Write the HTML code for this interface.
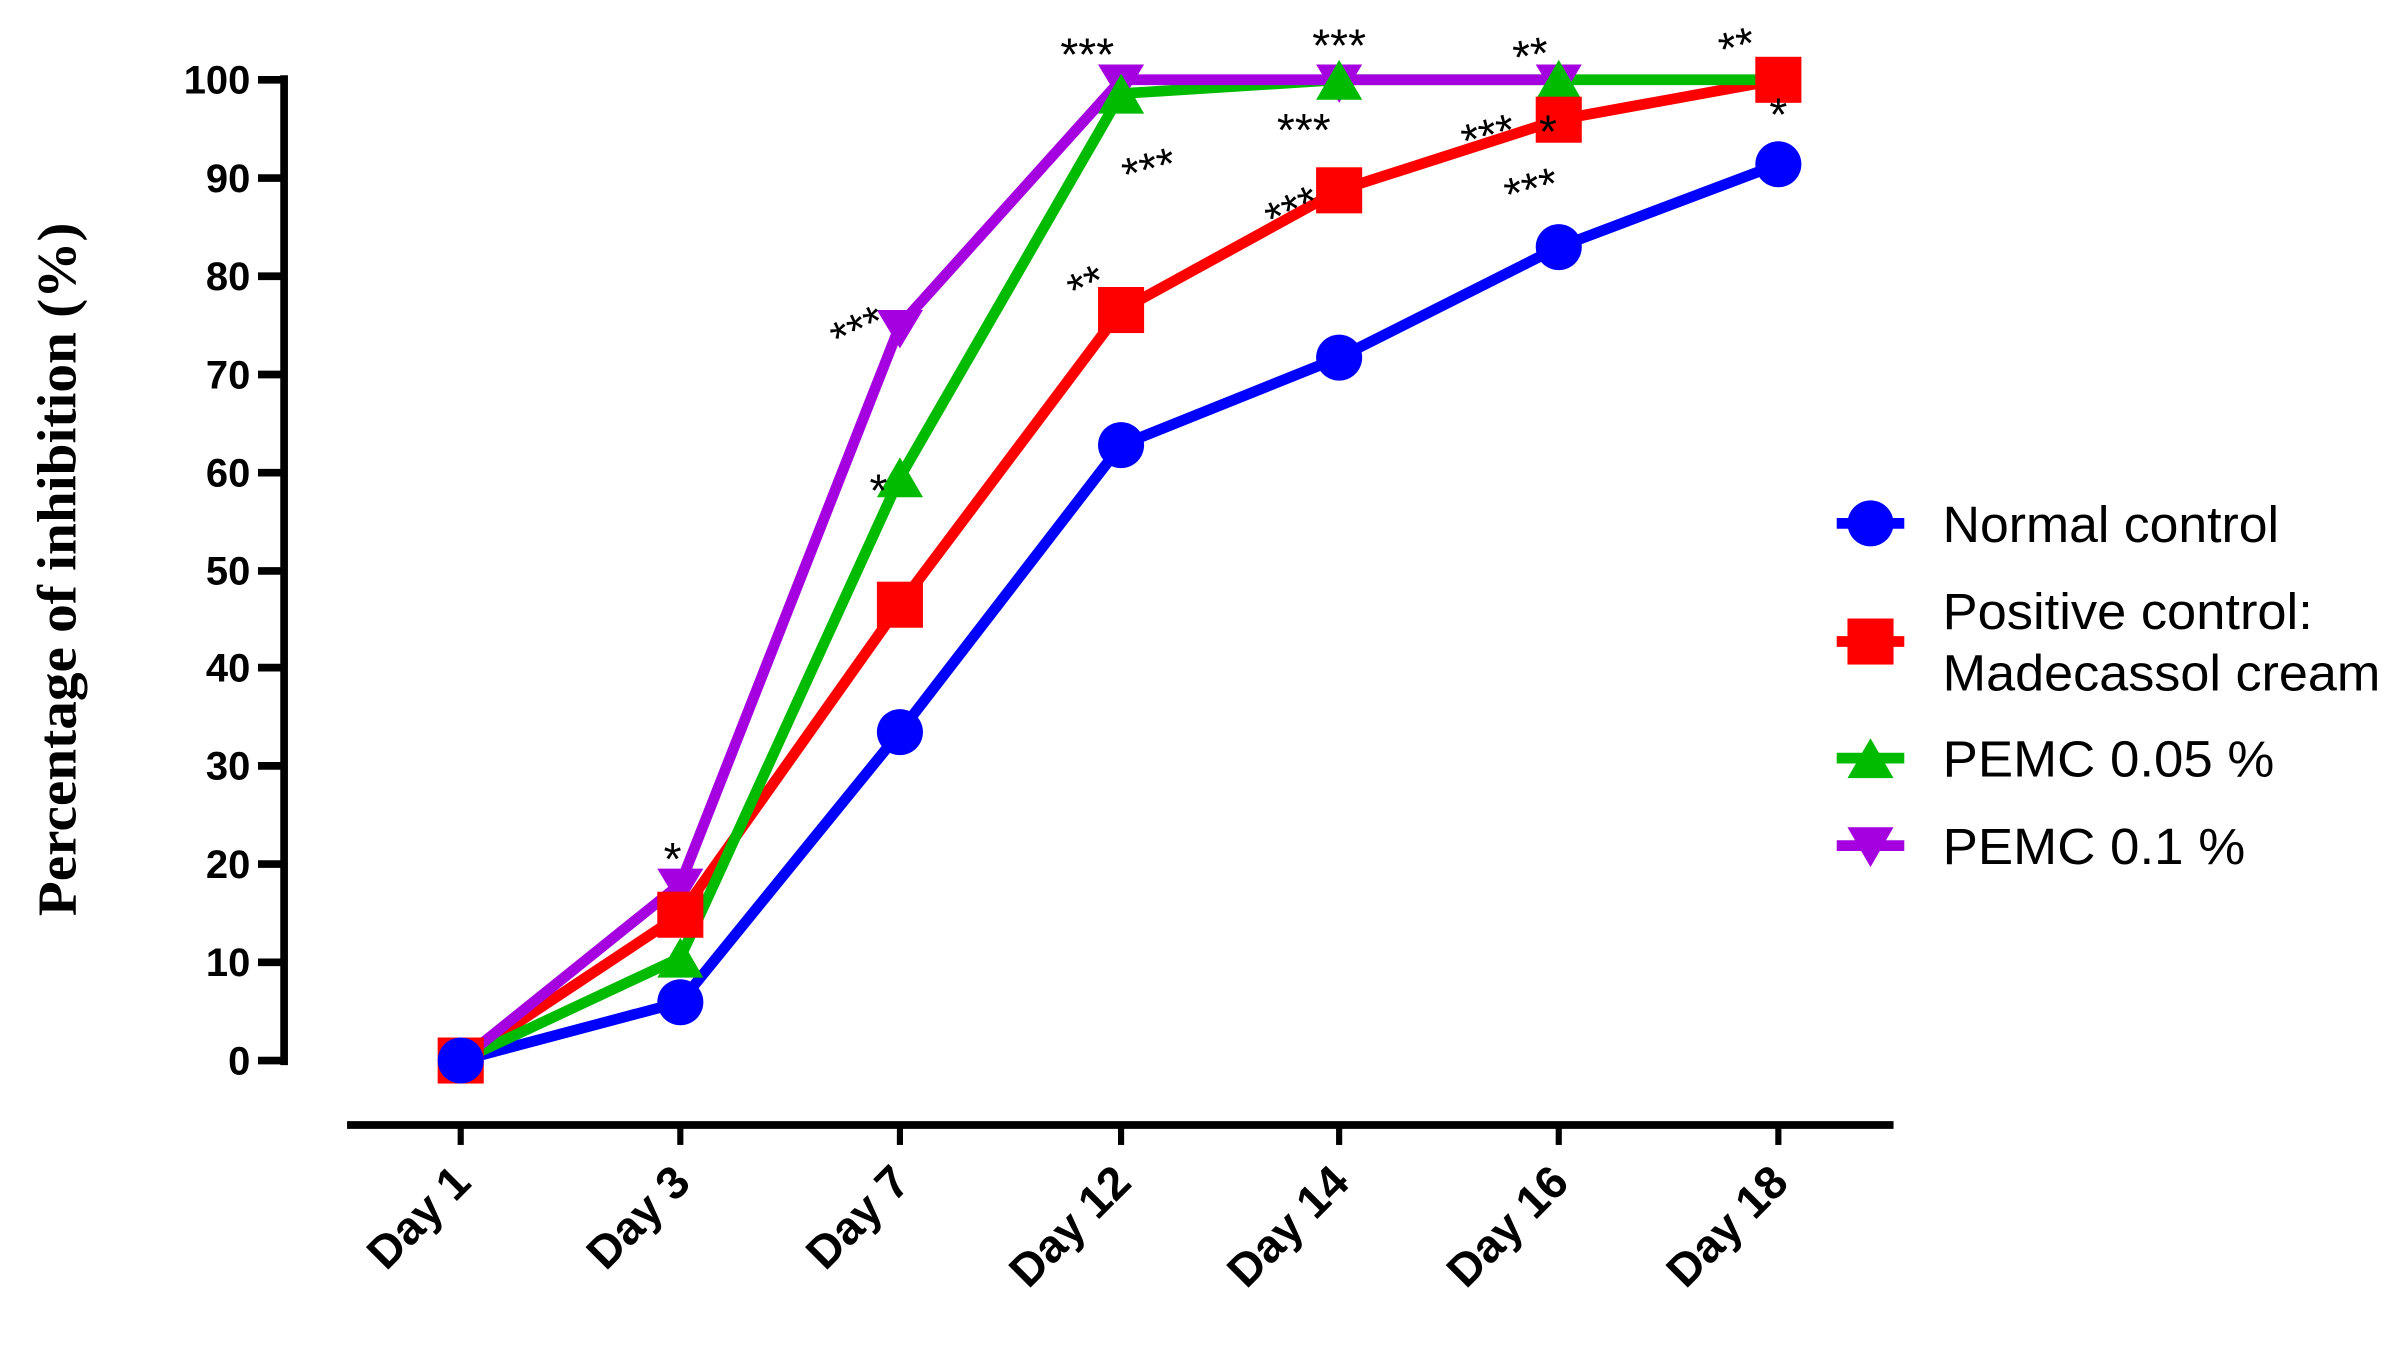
<!DOCTYPE html>
<html><head><meta charset="utf-8"><style>
html,body{margin:0;padding:0;background:#fff;overflow:hidden}
svg{display:block}
text{font-family:"Liberation Sans",Arial,sans-serif}
.tk{font-size:26px;font-weight:bold;fill:#000}
.xl{font-size:30px;font-weight:bold;fill:#000}
.ast{font-size:30px;fill:#000}
.lg{font-size:33px;fill:#000}
</style></head><body>
<svg width="2408" height="1346" viewBox="0 0 1568 877" preserveAspectRatio="none" xmlns="http://www.w3.org/2000/svg">
<rect width="1568" height="877" fill="#fff"/>
<line x1="185" y1="49" x2="185" y2="694" stroke="#000" stroke-width="5"/>
<g stroke="#000" stroke-width="5">
<line x1="168" y1="52" x2="185" y2="52"/><line x1="168" y1="116" x2="185" y2="116"/>
<line x1="168" y1="180" x2="185" y2="180"/><line x1="168" y1="244" x2="185" y2="244"/>
<line x1="168" y1="308" x2="185" y2="308"/><line x1="168" y1="372" x2="185" y2="372"/>
<line x1="168" y1="435" x2="185" y2="435"/><line x1="168" y1="499" x2="185" y2="499"/>
<line x1="168" y1="563" x2="185" y2="563"/><line x1="168" y1="627" x2="185" y2="627"/>
<line x1="168" y1="691" x2="185" y2="691"/>
</g>
<g class="tk" text-anchor="end">
<text x="163" y="61">100</text><text x="163" y="125">90</text><text x="163" y="189">80</text>
<text x="163" y="253">70</text><text x="163" y="317">60</text><text x="163" y="381">50</text>
<text x="163" y="444">40</text><text x="163" y="508">30</text><text x="163" y="572">20</text>
<text x="163" y="636">10</text><text x="163" y="700">0</text>
</g>
<text transform="translate(49,371) rotate(-90)" text-anchor="middle" textLength="452" lengthAdjust="spacingAndGlyphs" style="font-family:'Liberation Serif',serif;font-weight:bold;font-size:36px">Percentage of inhibition (%)</text>
<line x1="226" y1="733" x2="1233" y2="733" stroke="#000" stroke-width="5"/>
<g stroke="#000" stroke-width="4">
<line x1="300" y1="733" x2="300" y2="746"/><line x1="443" y1="733" x2="443" y2="746"/>
<line x1="586" y1="733" x2="586" y2="746"/><line x1="730" y1="733" x2="730" y2="746"/>
<line x1="872" y1="733" x2="872" y2="746"/><line x1="1015" y1="733" x2="1015" y2="746"/>
<line x1="1158" y1="733" x2="1158" y2="746"/>
</g>
<g class="xl" text-anchor="end">
<text transform="translate(308,772) rotate(-45)">Day 1</text>
<text transform="translate(451,772) rotate(-45)">Day 3</text>
<text transform="translate(594,772) rotate(-45)">Day 7</text>
<text transform="translate(738,772) rotate(-45)">Day 12</text>
<text transform="translate(880,772) rotate(-45)">Day 14</text>
<text transform="translate(1023,772) rotate(-45)">Day 16</text>
<text transform="translate(1166,772) rotate(-45)">Day 18</text>
</g>
<g fill="none" stroke-width="7" stroke-linejoin="round">
<polyline stroke="#0000ff" points="300,691 443,653 586,477 730,290 872,233 1015,161 1158,107"/>
<polyline stroke="#ff0000" points="300,691 443,596 586,394 730,202 872,124 1015,78 1158,52"/>
<polyline stroke="#00bb00" points="300,691 443,624 586,311 730,61 872,52 1015,52 1158,52"/>
<polyline stroke="#a400e0" points="300,691 443,576 586,212 730,52 872,52 1015,52"/>
</g>
<g fill="#a400e0">
<polygon points="285,681 315,681 300,706"/>
<polygon points="428,566 458,566 443,591"/>
<polygon points="571,202 601,202 586,227"/>
<polygon points="715,42 745,42 730,67"/>
<polygon points="857,42 887,42 872,67"/>
<polygon points="1000,42 1030,42 1015,67"/>
</g>
<g fill="#00bb00">
<polygon points="285,704 315,704 300,678"/>
<polygon points="428,637 458,637 443,611"/>
<polygon points="571,324 601,324 586,298"/>
<polygon points="715,74 745,74 730,48"/>
<polygon points="857,65 887,65 872,39"/>
<polygon points="1000,65 1030,65 1015,39"/>
</g>
<g fill="#ff0000">
<rect x="285" y="676" width="30" height="30"/>
<rect x="428" y="581" width="30" height="30"/>
<rect x="571" y="379" width="30" height="30"/>
<rect x="715" y="187" width="30" height="30"/>
<rect x="857" y="109" width="30" height="30"/>
<rect x="1000" y="63" width="30" height="30"/>
<rect x="1143" y="37" width="30" height="30"/>
</g>
<g fill="#0000ff">
<ellipse cx="300" cy="691" rx="15" ry="15"/>
<ellipse cx="443" cy="653" rx="15" ry="15"/>
<ellipse cx="586" cy="477" rx="15" ry="15"/>
<ellipse cx="730" cy="290" rx="15" ry="15"/>
<ellipse cx="872" cy="233" rx="15" ry="15"/>
<ellipse cx="1015" cy="161" rx="15" ry="15"/>
<ellipse cx="1158" cy="107" rx="15" ry="15"/>
</g>
<g class="ast" text-anchor="middle">
<text x="438" y="570">*</text>
<text transform="translate(563,224) rotate(-25)">***</text>
<text x="572" y="330">*</text>
<text x="708" y="46">***</text>
<text transform="translate(712,195) rotate(-25)">**</text>
<text transform="translate(751,120) rotate(-15)">***</text>
<text x="872" y="40">***</text>
<text x="849" y="95">***</text>
<text transform="translate(846,146) rotate(-25)">***</text>
<text transform="translate(999,46) rotate(-10)">**</text>
<text transform="translate(972,98) rotate(-15)">***</text>
<text x="1008" y="96">*</text>
<text transform="translate(1000,133) rotate(-15)">***</text>
<text transform="translate(1134,40) rotate(-15)">**</text>
<text x="1158" y="85">*</text>
</g>
<g stroke-width="7">
<line x1="1196" y1="341" x2="1240" y2="341" stroke="#0000ff"/>
<line x1="1196" y1="418" x2="1240" y2="418" stroke="#ff0000"/>
<line x1="1196" y1="494" x2="1240" y2="494" stroke="#00bb00"/>
<line x1="1196" y1="551" x2="1240" y2="551" stroke="#a400e0"/>
</g>
<ellipse cx="1218" cy="341" rx="15" ry="15" fill="#0000ff"/>
<rect x="1203" y="403" width="30" height="30" fill="#ff0000"/>
<polygon points="1203,507 1233,507 1218,481" fill="#00bb00"/>
<polygon points="1203,539 1233,539 1218,565" fill="#a400e0"/>
<g class="lg">
<text x="1265" y="353" textLength="219" lengthAdjust="spacingAndGlyphs">Normal control</text>
<text x="1265" y="410" textLength="241" lengthAdjust="spacingAndGlyphs">Positive control:</text>
<text x="1265" y="450" textLength="285" lengthAdjust="spacingAndGlyphs">Madecassol cream</text>
<text x="1265" y="506" textLength="216" lengthAdjust="spacingAndGlyphs">PEMC 0.05 %</text>
<text x="1265" y="563" textLength="197" lengthAdjust="spacingAndGlyphs">PEMC 0.1 %</text>
</g>
</svg>
</body></html>
